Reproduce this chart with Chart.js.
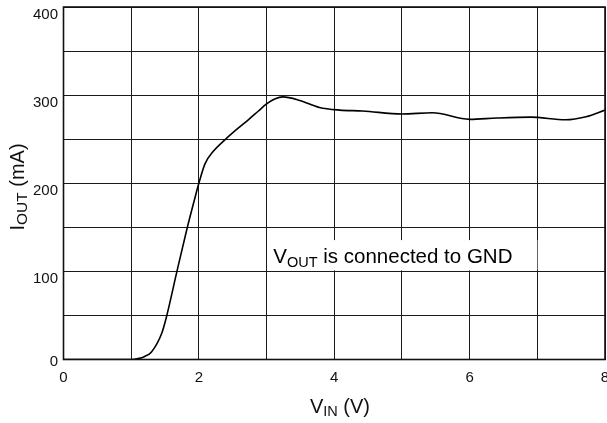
<!DOCTYPE html>
<html>
<head>
<meta charset="utf-8">
<script src="https://cdn.jsdelivr.net/npm/chart.js@4/dist/chart.umd.min.js"></script>
<style>
  html, body { margin: 0; padding: 0; background: #fff; overflow: hidden; }
  #wrap { width: 607px; height: 423px; }
</style>
</head>
<body>
<div id="wrap"><canvas id="ioutChart" width="607" height="423"></canvas></div>
<script>
// Measured curve: IOUT vs VIN, VOUT shorted to GND
const vin  = [0, 1.0, 1.1, 1.2, 1.3, 1.45, 1.52, 1.67, 1.82, 1.92, 2.0, 2.09, 2.21, 2.38, 2.58, 2.73, 2.88, 3.0, 3.12, 3.24, 3.49, 3.78, 4.08, 4.42, 5.0, 5.45, 6.0, 6.4, 6.9, 7.42, 7.72, 8.0];
const iout = [0, 0, 1, 3.5, 8.6, 29.5, 48, 98, 147, 177, 200, 222, 236, 249, 262.5, 272, 282, 290, 295.5, 298, 294, 286, 283, 282, 278.5, 280, 272.5, 274, 275, 272, 275.5, 283];

const xTickLabels = [0, 2, 4, 6, 8];
const yTickLabels = [0, 100, 200, 300, 400];

const FONT = 'Arial, "Liberation Sans", sans-serif';

// draw text made of [string, isSubscript] pieces, left aligned at x
function drawParts(ctx, parts, x, y, size, subSize) {
    let cx = x;
    parts.forEach(([txt, sub]) => {
        ctx.font = (sub ? subSize : size) + 'px ' + FONT;
        ctx.fillText(txt, cx, sub ? y + size * 0.17 : y);
        cx += ctx.measureText(txt).width;
    });
    return cx - x;
}

function partsWidth(ctx, parts, size, subSize) {
    let w = 0;
    parts.forEach(([txt, sub]) => {
        ctx.font = (sub ? subSize : size) + 'px ' + FONT;
        w += ctx.measureText(txt).width;
    });
    return w;
}

const decorPlugin = {
    id: 'decor',
    beforeDatasetsDraw(chart) {
        const { ctx, scales: { x, y } } = chart;
        // annotation box
        const left = x.getPixelForValue(3.08), right = x.getPixelForValue(7.0);
        const top = y.getPixelForValue(135.5), bottom = y.getPixelForValue(100);
        ctx.save();
        ctx.fillStyle = '#fff';
        ctx.fillRect(left, top, right - left, bottom - top - 1);
        ctx.fillStyle = '#000';
        ctx.textBaseline = 'alphabetic';
        drawParts(ctx, [['V', false], ['OUT', true], [' is connected to GND', false]],
            x.getPixelForValue(3.1), y.getPixelForValue(109), 20.5, 14.5);
        ctx.restore();
    },
    afterDraw(chart) {
        const { ctx, chartArea: a, scales: { x, y } } = chart;
        ctx.save();
        // frame
        ctx.strokeStyle = '#111';
        ctx.lineWidth = 1.6;
        ctx.strokeRect(a.left, a.top, a.right - a.left, a.bottom - a.top);

        ctx.fillStyle = '#111';
        ctx.font = '15px ' + FONT;
        // x tick labels (last one runs off the page like the original)
        ctx.textAlign = 'center';
        ctx.textBaseline = 'top';
        xTickLabels.forEach(v => ctx.fillText(String(v), x.getPixelForValue(v), a.bottom + 11));
        // y tick labels
        ctx.textAlign = 'right';
        ctx.textBaseline = 'middle';
        yTickLabels.forEach(v => {
            const off = v === 0 ? 2 : 7.5;
            ctx.fillText(String(v), 58, y.getPixelForValue(v) + off);
        });

        // x title
        ctx.textAlign = 'left';
        ctx.textBaseline = 'alphabetic';
        const xt = [['V', false], ['IN', true], [' (V)', false]];
        const xw = partsWidth(ctx, xt, 20, 14.5);
        drawParts(ctx, xt, 340 - xw / 2, 413, 20, 14.5);

        // y title, rotated
        const yt = [['I', false], ['OUT', true], [' (mA)', false]];
        const yw = partsWidth(ctx, yt, 20, 15.5);
        ctx.translate(24, 187);
        ctx.rotate(-Math.PI / 2);
        drawParts(ctx, yt, -yw / 2, 0, 20, 15.5);
        ctx.restore();
    }
};

new Chart(document.getElementById('ioutChart').getContext('2d'), {
    type: 'line',
    data: {
        datasets: [{
            label: 'IOUT',
            data: vin.map((v, i) => ({ x: v, y: iout[i] })),
            borderColor: '#000',
            borderWidth: 1.6,
            pointRadius: 0,
            fill: false,
            cubicInterpolationMode: 'monotone'
        }]
    },
    options: {
        responsive: false,
        animation: false,
        layout: { padding: { top: 7, right: 2, left: 0, bottom: 0 } },
        plugins: {
            legend: { display: false },
            tooltip: { enabled: false }
        },
        scales: {
            x: {
                type: 'linear',
                min: 0, max: 8,
                ticks: { stepSize: 1, display: false },
                grid: { color: '#1a1a1a', lineWidth: 1, drawTicks: false },
                border: { display: false },
                afterFit: (s) => { s.height = 63.5; }
            },
            y: {
                min: 0, max: 400,
                ticks: { stepSize: 50, display: false },
                grid: { color: '#1a1a1a', lineWidth: 1, drawTicks: false },
                border: { display: false },
                afterFit: (s) => { s.width = 63.5; }
            }
        }
    },
    plugins: [decorPlugin]
});
</script>
</body>
</html>
